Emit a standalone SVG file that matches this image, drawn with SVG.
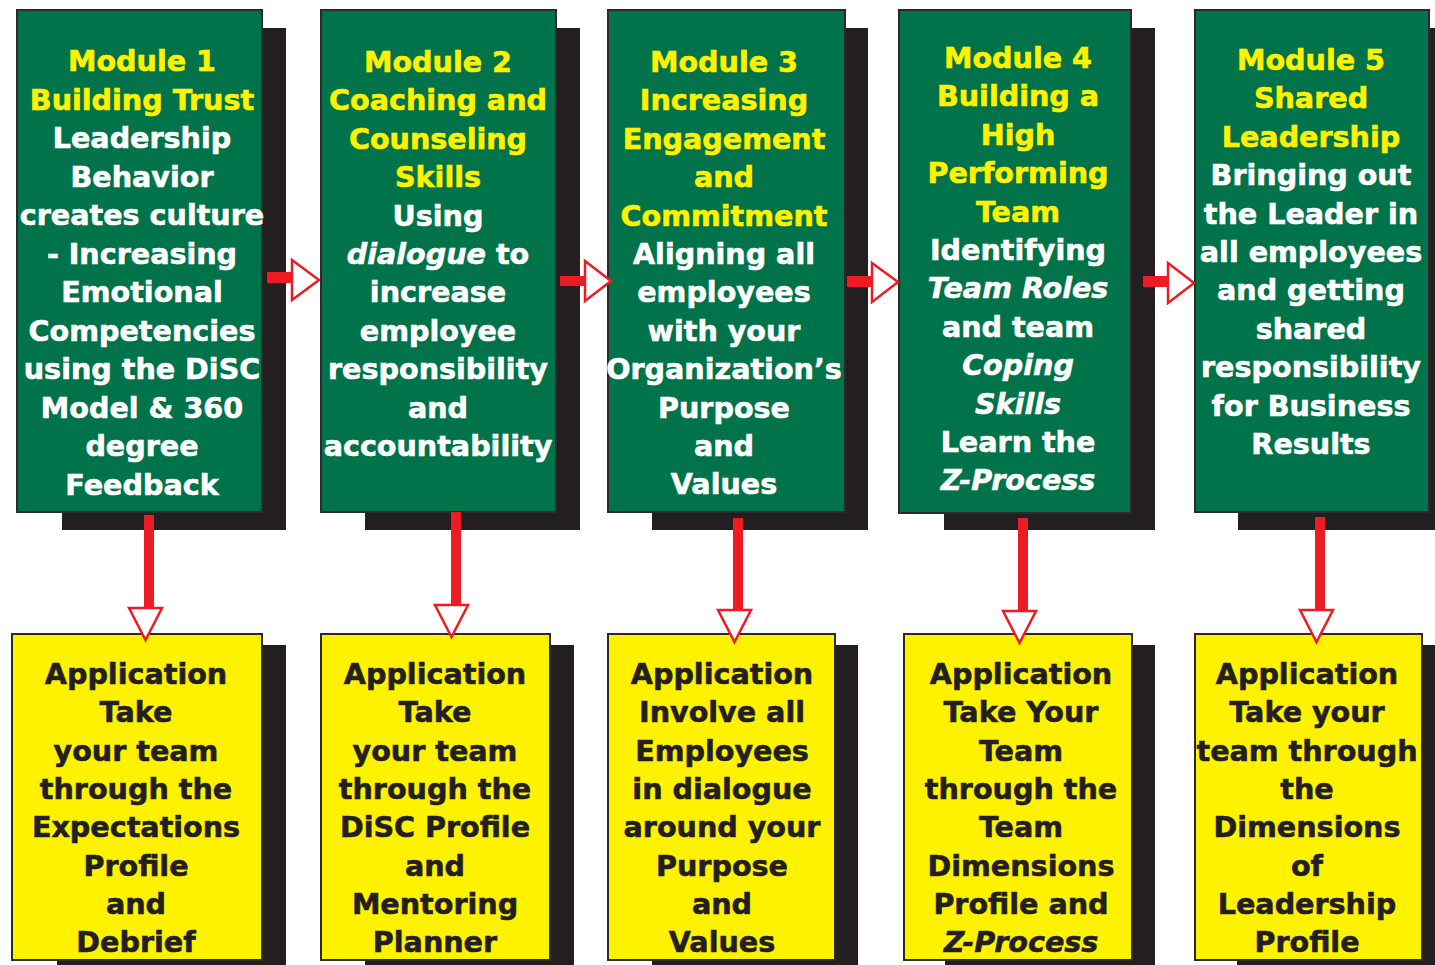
<svg xmlns="http://www.w3.org/2000/svg" width="1435" height="965" viewBox="0 0 1435 965">
<style>
  .sh { fill: #231f20; }
  .gr { fill: #00734a; stroke: #2b2b2b; stroke-width: 2; }
  .ye { fill: #fff200; stroke: #2b2b2b; stroke-width: 2; }
  text { font-family: "DejaVu Sans", Verdana, "Liberation Sans", sans-serif; font-weight: bold; font-size: 28.6px; text-anchor: middle; stroke-width: 0.6px; }
  .t { fill: #fff200; stroke: #fff200; }
  .w { fill: #ffffff; stroke: #ffffff; }
  .k { fill: #231f20; stroke: #231f20; }
  .i { font-style: italic; }
  .shaft { fill: #ed1c24; }
  .head { fill: #ffffff; stroke: #ed1c24; stroke-width: 2.5; stroke-linejoin: miter; }
</style>
<rect width="1435" height="965" fill="#ffffff"/>

<g id="module1">
  <rect class="sh" x="62" y="28" width="224" height="502"/>
  <rect class="gr" x="17" y="10" width="245" height="502"/>
  <text class="t" x="142" y="71">Module 1</text>
  <text class="t" x="142" y="109.5">Building Trust</text>
  <text class="w" x="142" y="148">Leadership</text>
  <text class="w" x="142" y="186.5">Behavior</text>
  <text class="w" x="142" y="225">creates culture</text>
  <text class="w" x="142" y="263.5">- Increasing</text>
  <text class="w" x="142" y="302">Emotional</text>
  <text class="w" x="142" y="340.5">Competencies</text>
  <text class="w" x="142" y="379">using the DiSC</text>
  <text class="w" x="142" y="417.5">Model &amp; 360</text>
  <text class="w" x="142" y="456">degree</text>
  <text class="w" x="142" y="494.5">Feedback</text>
</g>

<g id="module2">
  <rect class="sh" x="365" y="28" width="215" height="502"/>
  <rect class="gr" x="321" y="10" width="235" height="502"/>
  <text class="t" x="438" y="72">Module 2</text>
  <text class="t" x="438" y="110.4">Coaching and</text>
  <text class="t" x="438" y="148.8">Counseling</text>
  <text class="t" x="438" y="187.2">Skills</text>
  <text class="w" x="438" y="225.6">Using</text>
  <text class="w" x="438" y="264"><tspan class="i">dialogue</tspan> to</text>
  <text class="w" x="438" y="302.4">increase</text>
  <text class="w" x="438" y="340.8">employee</text>
  <text class="w" x="438" y="379.2">responsibility</text>
  <text class="w" x="438" y="417.6">and</text>
  <text class="w" x="438" y="456">accountability</text>
</g>

<g id="module3">
  <rect class="sh" x="652" y="28" width="216" height="502"/>
  <rect class="gr" x="608" y="10" width="237" height="502"/>
  <text class="t" x="724" y="72">Module 3</text>
  <text class="t" x="724" y="110.4">Increasing</text>
  <text class="t" x="724" y="148.8">Engagement</text>
  <text class="t" x="724" y="187.2">and</text>
  <text class="t" x="724" y="225.6">Commitment</text>
  <text class="w" x="724" y="264">Aligning all</text>
  <text class="w" x="724" y="302.4">employees</text>
  <text class="w" x="724" y="340.8">with your</text>
  <text class="w" x="724" y="379.2">Organization’s</text>
  <text class="w" x="724" y="417.6">Purpose</text>
  <text class="w" x="724" y="456">and</text>
  <text class="w" x="724" y="494.4">Values</text>
</g>

<g id="module4">
  <rect class="sh" x="944" y="28" width="211" height="502"/>
  <rect class="gr" x="899" y="10" width="232" height="503"/>
  <text class="t" x="1018" y="68">Module 4</text>
  <text class="t" x="1018" y="106.4">Building a</text>
  <text class="t" x="1018" y="144.8">High</text>
  <text class="t" x="1018" y="183.2">Performing</text>
  <text class="t" x="1018" y="221.6">Team</text>
  <text class="w" x="1018" y="260">Identifying</text>
  <text class="w i" x="1018" y="298.4">Team Roles</text>
  <text class="w" x="1018" y="336.8">and team</text>
  <text class="w i" x="1018" y="375.2">Coping</text>
  <text class="w i" x="1018" y="413.6">Skills</text>
  <text class="w" x="1018" y="452">Learn the</text>
  <text class="w i" x="1018" y="490.4">Z-Process</text>
</g>

<g id="module5">
  <rect class="sh" x="1238" y="28" width="220" height="502"/>
  <rect class="gr" x="1195" y="10" width="234" height="502"/>
  <text class="t" x="1311" y="70">Module 5</text>
  <text class="t" x="1311" y="108.4">Shared</text>
  <text class="t" x="1311" y="146.8">Leadership</text>
  <text class="w" x="1311" y="185.2">Bringing out</text>
  <text class="w" x="1311" y="223.6">the Leader in</text>
  <text class="w" x="1311" y="262">all employees</text>
  <text class="w" x="1311" y="300.4">and getting</text>
  <text class="w" x="1311" y="338.8">shared</text>
  <text class="w" x="1311" y="377.2">responsibility</text>
  <text class="w" x="1311" y="415.6">for Business</text>
  <text class="w" x="1311" y="454">Results</text>
</g>

<g id="application1">
  <rect class="sh" x="57" y="645" width="229" height="330"/>
  <rect class="ye" x="12" y="634" width="250" height="326"/>
  <text class="k" x="136" y="684">Application</text>
  <text class="k" x="136" y="722.3">Take</text>
  <text class="k" x="136" y="760.6">your team</text>
  <text class="k" x="136" y="798.9">through the</text>
  <text class="k" x="136" y="837.2">Expectations</text>
  <text class="k" x="136" y="875.5">Profile</text>
  <text class="k" x="136" y="913.8">and</text>
  <text class="k" x="136" y="952.1">Debrief</text>
</g>

<g id="application2">
  <rect class="sh" x="365" y="645" width="209" height="330"/>
  <rect class="ye" x="321" y="634" width="229" height="326"/>
  <text class="k" x="435" y="684">Application</text>
  <text class="k" x="435" y="722.3">Take</text>
  <text class="k" x="435" y="760.6">your team</text>
  <text class="k" x="435" y="798.9">through the</text>
  <text class="k" x="435" y="837.2">DiSC Profile</text>
  <text class="k" x="435" y="875.5">and</text>
  <text class="k" x="435" y="913.8">Mentoring</text>
  <text class="k" x="435" y="952.1">Planner</text>
</g>

<g id="application3">
  <rect class="sh" x="652" y="645" width="206" height="330"/>
  <rect class="ye" x="608" y="634" width="227" height="326"/>
  <text class="k" x="722" y="684">Application</text>
  <text class="k" x="722" y="722.3">Involve all</text>
  <text class="k" x="722" y="760.6">Employees</text>
  <text class="k" x="722" y="798.9">in dialogue</text>
  <text class="k" x="722" y="837.2">around your</text>
  <text class="k" x="722" y="875.5">Purpose</text>
  <text class="k" x="722" y="913.8">and</text>
  <text class="k" x="722" y="952.1">Values</text>
</g>

<g id="application4">
  <rect class="sh" x="945" y="645" width="210" height="330"/>
  <rect class="ye" x="904" y="634" width="228" height="326"/>
  <text class="k" x="1021" y="684">Application</text>
  <text class="k" x="1021" y="722.3">Take Your</text>
  <text class="k" x="1021" y="760.6">Team</text>
  <text class="k" x="1021" y="798.9">through the</text>
  <text class="k" x="1021" y="837.2">Team</text>
  <text class="k" x="1021" y="875.5">Dimensions</text>
  <text class="k" x="1021" y="913.8">Profile and</text>
  <text class="k i" x="1021" y="952.1">Z-Process</text>
</g>

<g id="application5">
  <rect class="sh" x="1237" y="645" width="220" height="330"/>
  <rect class="ye" x="1195" y="634" width="227" height="326"/>
  <text class="k" x="1307" y="684">Application</text>
  <text class="k" x="1307" y="722.3">Take your</text>
  <text class="k" x="1307" y="760.6">team through</text>
  <text class="k" x="1307" y="798.9">the</text>
  <text class="k" x="1307" y="837.2">Dimensions</text>
  <text class="k" x="1307" y="875.5">of</text>
  <text class="k" x="1307" y="913.8">Leadership</text>
  <text class="k" x="1307" y="952.1">Profile</text>
</g>

<g id="connectors">
  <!-- horizontal arrows -->
  <rect class="shaft" x="267" y="272" width="25" height="11"/>
  <polygon class="head" points="292,260 319,280 292,300"/>
  <rect class="shaft" x="560" y="276" width="25" height="10"/>
  <polygon class="head" points="585,261 611,281 585,301"/>
  <rect class="shaft" x="847" y="276" width="25" height="11"/>
  <polygon class="head" points="872,263 898,282 872,302"/>
  <rect class="shaft" x="1143" y="276" width="25" height="11"/>
  <polygon class="head" points="1168,263 1194,283 1168,303"/>
  <!-- vertical arrows -->
  <rect class="shaft" x="144" y="515" width="10" height="93"/>
  <polygon class="head" points="129,608 162,608 145.5,640"/>
  <rect class="shaft" x="451" y="512" width="10" height="93"/>
  <polygon class="head" points="435,605 468,605 451.5,637"/>
  <rect class="shaft" x="733" y="518" width="10" height="92"/>
  <polygon class="head" points="718,610 751,610 734.5,642"/>
  <rect class="shaft" x="1018" y="518" width="10" height="93"/>
  <polygon class="head" points="1003,611 1036,611 1019.5,643"/>
  <rect class="shaft" x="1315" y="517" width="10" height="93"/>
  <polygon class="head" points="1300,610 1333,610 1316.5,642"/>
</g>
</svg>
